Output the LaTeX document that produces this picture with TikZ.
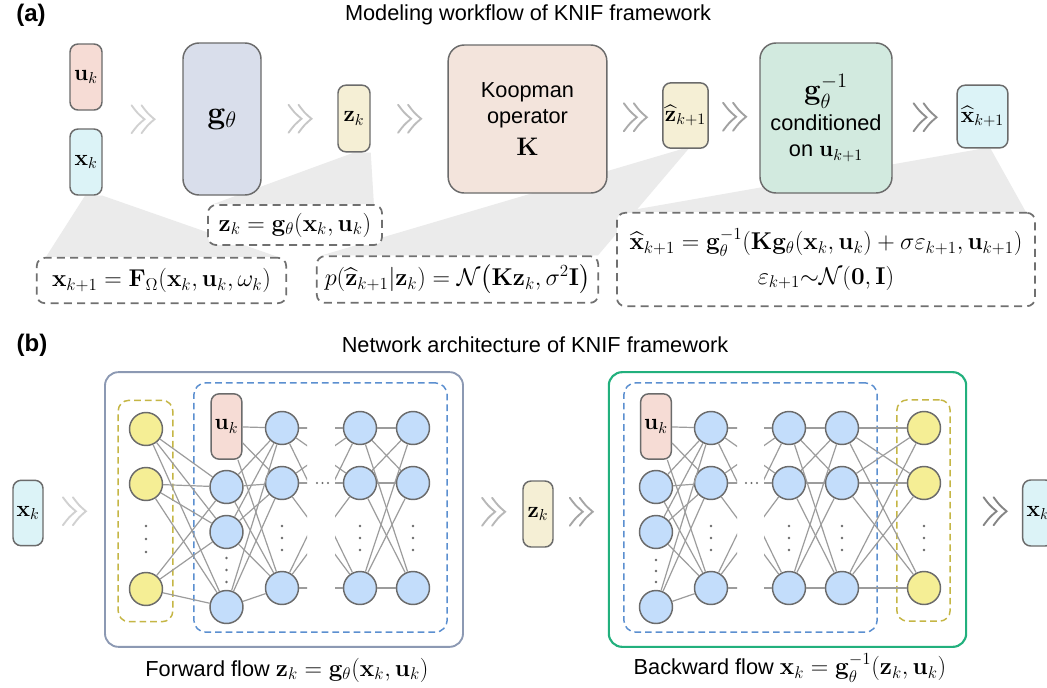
\RequirePackage{fix-cm}
\documentclass[tikz,border=0pt]{standalone}
\usepackage{amsmath,amssymb}
\usepackage[no-math]{fontspec}
\setmainfont{Liberation Sans}
\usepackage{tikz}
\usetikzlibrary{calc,positioning,backgrounds}
\definecolor{edgegray}{HTML}{6B6B6B}
\definecolor{linkgray}{HTML}{9C9C9C}
\definecolor{dashgray}{HTML}{707070}
\definecolor{wedgegray}{HTML}{EBEBEB}
\definecolor{ukpink}{HTML}{F6DCD5}
\definecolor{xkcyan}{HTML}{DCF3F7}
\definecolor{glav}{HTML}{D9DEEB}
\definecolor{zkcream}{HTML}{F5EFD5}
\definecolor{koopeach}{HTML}{F3E4DC}
\definecolor{ginvmint}{HTML}{D2EADF}
\definecolor{neublue}{HTML}{C3DDFB}
\definecolor{neuyellow}{HTML}{F5EE95}
\definecolor{fwdframe}{HTML}{8C99B3}
\definecolor{bwdframe}{HTML}{22B07D}
\definecolor{grpblue}{HTML}{5B8FD0}
\definecolor{grpyellow}{HTML}{C5B645}
\newcommand{\labsize}{\fontsize{17}{20}\selectfont}
\newcommand{\eqsize}{\fontsize{18.2}{22}\selectfont}
\newcommand{\txtsize}{\fontsize{16.3}{20}\selectfont}
\newcommand{\chev}[2]{%
  \draw[chevstroke,draw=#2,shift={(#1)}] (-11,-14) .. controls (-5,-6) .. (2,0) .. controls (-5,6) .. (-11,14);
  \draw[chevstroke,draw=#2,shift={(#1)}] (-1,-14) .. controls (5,-6) .. (12,0) .. controls (5,6) .. (-1,14);}
\tikzset{
  blk/.style={draw=edgegray,line width=1.1pt,rounded corners=6pt,inner sep=0pt,font=\labsize},
  bigblk/.style={blk,rounded corners=12pt,align=center,font=\txtsize},
  eqbox/.style={draw=dashgray,fill=white,line width=1.3pt,dash pattern=on 6pt off 4pt,
    rounded corners=6pt,inner sep=0pt,font=\eqsize,align=center},
  wedgefill/.style={fill=wedgegray},
  chevstroke/.style={line width=1.4pt,line cap=round},
  neu/.style={circle,draw=edgegray,line width=1.1pt,fill=neublue,minimum size=24.75pt,inner sep=0pt},
  yel/.style={neu,fill=neuyellow},
  wire/.style={draw=linkgray,line width=0.9pt},
  ttl/.style={font=\txtsize},
  panel/.style={font=\fontsize{18}{21}\selectfont\bfseries},
  frame/.style={fill=white,line width=1.4pt,rounded corners=10pt,inner sep=0pt,minimum height=206pt},
  grpb/.style={draw=grpblue,line width=1.1pt,dash pattern=on 5pt off 3pt,rounded corners=9pt,
    inner sep=0pt,minimum width=190pt,minimum height=187pt},
  grpy/.style={draw=grpyellow,line width=1.1pt,dash pattern=on 5pt off 3pt,rounded corners=8pt,
    inner sep=0pt,minimum height=166pt},
  dotc/.style={fill=edgegray},
}

\begin{document}
\begin{tikzpicture}[x=0.75pt,y=-0.75pt]
  \clip (0,0) rectangle (1047,687);

  % (a) modeling workflow
  \node[panel] (pa) at (31,15) {(a)};
  \node[ttl] (ta) at (528,15) {Modeling workflow of KNIF framework};

  \node[blk,fill=ukpink,minimum width=24pt,minimum height=49.5pt] (uk) at (86,77) {$\mathbf{u}_k$};
  \node[blk,fill=xkcyan,minimum width=24pt,minimum height=49.5pt] (xk) at (86,162) {$\mathbf{x}_k$};
  \node[bigblk,fill=glav,minimum width=58.5pt,minimum height=114pt,font=\fontsize{24}{26}\selectfont]
    (gth) at (222,119) {$\mathbf{g}_\theta$};
  \node[blk,fill=zkcream,minimum width=24pt,minimum height=50pt] (zk) at (354,118.5) {$\mathbf{z}_k$};
  \node[bigblk,fill=koopeach,minimum width=119pt,minimum height=111pt]
    (koop) at (527.5,119) {Koopman\\operator\\[4pt]{\fontsize{19}{20}\selectfont$\mathbf{K}$}};
  \node[blk,fill=zkcream,minimum width=34pt,minimum height=49pt] (zhat) at (685.5,115.5) {$\widehat{\mathbf{z}}_{k+1}$};
  \node[bigblk,fill=ginvmint,minimum width=99pt,minimum height=112.5pt]
    (ginv) at (826,118) {{\fontsize{22}{22}\selectfont$\mathbf{g}_\theta^{-1}$}\\[3pt]conditioned\\on {\labsize$\mathbf{u}_{k+1}$}};
  \node[blk,fill=xkcyan,minimum width=38pt,minimum height=47pt] (xhat) at (982.5,116.5) {$\widehat{\mathbf{x}}_{k+1}$};

  \node[eqbox,minimum width=130.5pt,minimum height=30pt] (eqz) at (295,225)
    {$\mathbf{z}_k=\mathbf{g}_\theta(\mathbf{x}_k,\mathbf{u}_k)$};
  \node[eqbox,minimum width=187pt,minimum height=34pt] (eqx) at (161.5,280.5)
    {$\mathbf{x}_{k+1}=\mathbf{F}_\Omega(\mathbf{x}_k,\mathbf{u}_k,\omega_k)$};
  \node[eqbox,minimum width=211pt,minimum height=35pt] (eqp) at (457.5,279.5)
    {$p(\widehat{\mathbf{z}}_{k+1}|\mathbf{z}_k)=\mathcal{N}\big(\mathbf{K}\mathbf{z}_k,\sigma^2\mathbf{I}\big)$};
  \node[eqbox,minimum width=313.5pt,minimum height=70pt] (eqxh) at (826,259.5)
    {$\widehat{\mathbf{x}}_{k+1}=\mathbf{g}_\theta^{-1}(\mathbf{K}\mathbf{g}_\theta(\mathbf{x}_k,\mathbf{u}_k)+\sigma\varepsilon_{k+1},\mathbf{u}_{k+1})$\\[4pt]
     $\varepsilon_{k+1}{\sim}\mathcal{N}(\mathbf{0},\mathbf{I})$};

  \begin{scope}[on background layer]
    \fill[white] (0,0) rectangle (1047,687);
    \fill[wedgefill] ($(xk.south)+(-1,0)$) -- (xk.south east) -- ($(eqx.north east)+(-9,0)$) -- ($(eqx.north west)+(10,0)$) -- cycle;
    \fill[wedgefill] (zk.south) -- (zk.south east) -- ($(eqz.north east)+(-9,0)$) -- ($(eqz.north west)+(6,0)$) -- cycle;
    \fill[wedgefill] ($(zhat.south)+(-3,0)$) -- ($(zhat.south)+(3,0)$) -- ($(eqp.north east)+(-1,0)$) -- ($(eqp.north west)+(6,0)$) -- cycle;
    \fill[wedgefill] (xhat.south) -- ($(xhat.south)+(8,0)$) -- ($(eqxh.north east)+(-10,0)$) -- ($(eqxh.north west)+(5,0)$) -- cycle;
  \end{scope}

  \coordinate (inab) at ($(uk.south east)!.5!(xk.north east)$);
  \chev{$(inab)!.5!(gth.west)$}{black!18}
  \chev{$(gth.east)!.5!(zk.west)$}{black!22}
  \chev{$(zk.east)!.5!(koop.west)$}{black!26}
  \chev{$(koop.east)!.5!(zhat.west)$}{black!33}
  \chev{$(zhat.east)!.5!(ginv.west)$}{black!37}
  \chev{$(ginv.east)!.5!(xhat.west)$}{black!44}

  % (b) network architecture
  \node[panel] (pb) at (32,345) {(b)};
  \node[ttl] (tb) at (535,345) {Network architecture of KNIF framework};

  \node[blk,fill=xkcyan,minimum width=22.5pt,minimum height=49pt] (xkb) at (28,513) {$\mathbf{x}_k$};
  \node[frame,draw=fwdframe,minimum width=268.5pt] (fwd) at (284,509.5) {};
  \node[grpy,minimum width=41pt] (fyel) at (145.5,511) {};
  \node[grpb] (fblu) at (320.5,507.5) {};
  \node[blk,fill=zkcream,minimum width=22.5pt,minimum height=49.5pt] (zkb) at (538,514) {$\mathbf{z}_k$};
  \node[frame,draw=bwdframe,line width=1.6pt,minimum width=268pt] (bwd) at (787.5,509.5) {};
  \node[grpb] (bblu) at (750.5,507.5) {};
  \node[grpy,minimum width=40pt] (byel) at (923.5,510.5) {};
  \node[blk,fill=xkcyan,minimum width=23pt,minimum height=49.5pt] (xout) at (1038,513) {$\mathbf{x}_k$};

  % forward flow layers
  \node[blk,fill=ukpink,minimum width=23pt,minimum height=49pt] (fu) at (226.5,426.5) {$\mathbf{u}_k$};
  \foreach \n/\y in {a/429,b/484,c/589} \node[yel] (f1\n) at (146,\y) {};
  \foreach \n/\y in {a/487,b/532,c/607} \node[neu] (f2\n) at (226.5,\y) {};
  \foreach \n/\y in {a/428,b/483,c/588} {
    \node[neu] (f3\n) at (282,\y) {};
    \node[neu] (f4\n) at (360,\y) {};
    \node[neu] (f5\n) at (413,\y) {};
  }
  % backward flow layers
  \node[blk,fill=ukpink,minimum width=23pt,minimum height=49pt] (bu) at (656,426.5) {$\mathbf{u}_k$};
  \foreach \n/\y in {a/487,b/532,c/607} \node[neu] (b1\n) at (656,\y) {};
  \foreach \n/\y in {a/428,b/483,c/588} {
    \node[neu] (b2\n) at (711,\y) {};
    \node[neu] (b3\n) at (789,\y) {};
    \node[neu] (b4\n) at (842,\y) {};
    \node[yel] (b5\n) at (924,\y) {};
  }

  \foreach \i in {a,b,c}{
    \foreach \j in {a,b,c}{
      \draw[wire] (f1\i) -- (f2\j);
      \draw[wire] (f2\i) -- (f3\j);
      \draw[wire] (f4\i) -- (f5\j);
      \draw[wire] (b1\i) -- (b2\j);
      \draw[wire] (b3\i) -- (b4\j);
      \draw[wire] (b4\i) -- (b5\j);
    }
    \draw[wire] (fu) -- (f3\i);
    \draw[wire] (bu) -- (b2\i);
  }
  % cut connections around the dots
  \begin{scope}
    \clip (282,380) rectangle (307,640) (335,380) rectangle (360,640)
          (711,380) rectangle (737,640) (764,380) rectangle (789,640);
    \foreach \i in {a,b,c}{
      \foreach \j in {a,b,c}{
        \draw[wire] (f3\i) -- (f4\j);
        \draw[wire] (b2\i) -- (b3\j);
      }
    }
  \end{scope}

  % dots
  \foreach \x/\y in {146/526,146/539,146/552,226.5/558,226.5/570,226.5/582,
      656/560,656/571,656/582}
    \fill[dotc] (\x,\y) circle (1.1pt);
  \foreach \x in {282,360,413,711,789,842,924}
    \foreach \y in {526,538,550} \fill[dotc] (\x,\y) circle (1.1pt);
  \foreach \x in {317,322.5,328,746,751.5,757} \fill[dotc] (\x,483) circle (0.8pt);

  \chev{$(xkb.east)!.5!(fwd.west)$}{black!18}
  \chev{$(fwd.east)!.5!(zkb.west)$}{black!28}
  \chev{$(zkb.east)!.5!(bwd.west)$}{black!35}
  \chev{$(bwd.east)!.5!(xout.west)$}{black!48}

  \node[ttl] (capf) at (287,670) {Forward flow {\eqsize$\mathbf{z}_k=\mathbf{g}_\theta(\mathbf{x}_k,\mathbf{u}_k)$}};
  \node[ttl] (capb) at (790,668) {Backward flow {\eqsize$\mathbf{x}_k=\mathbf{g}_\theta^{-1}(\mathbf{z}_k,\mathbf{u}_k)$}};
\end{tikzpicture}
\end{document}
